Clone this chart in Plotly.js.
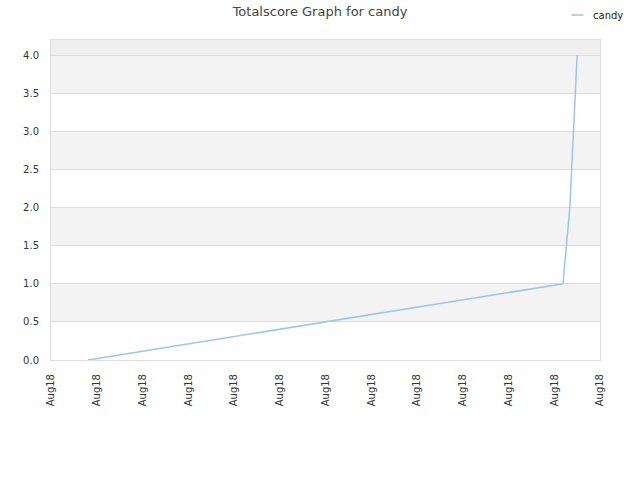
<!DOCTYPE html>
<html>
<head>
<meta charset="utf-8">
<script src="https://cdn.plot.ly/plotly-3.0.1.min.js"></script>
<style>html,body{margin:0;padding:0;background:#fff;}#chart{width:640px;height:480px;}</style>
</head>
<body>
<div id="chart"></div>
<script>
var seriesName = "candy";
var dates = ["2018-08-01 19:26", "2018-08-12 04:34", "2018-08-12 08:10", "2018-08-12 12:00"];
var scores = [0, 1, 2, 4];
var tickDates = ["2018-08-01","2018-08-02","2018-08-03","2018-08-04","2018-08-05","2018-08-06","2018-08-07","2018-08-08","2018-08-09","2018-08-10","2018-08-11","2018-08-12","2018-08-13"];
var tickLabels = tickDates.map(function(){ return "Aug18"; });
var yTicks = [0, 0.5, 1, 1.5, 2, 2.5, 3, 3.5, 4];
var lineColor = "#99c6f2";

var bands = [[0.5,1,"#f3f3f3"],[1.5,2,"#f3f3f3"],[2.5,3,"#f3f3f3"],[3.5,4,"#f3f3f3"],[4,4.2,"#eeeeee"]];
var shapes = bands.map(function(b){
  return {type:"rect", xref:"paper", yref:"y", x0:0, x1:1, y0:b[0], y1:b[1], fillcolor:b[2], line:{width:0}, layer:"below"};
});
// legend sample line (manual legend so the plot area is not pushed down)
shapes.push({type:"line", xref:"paper", yref:"paper", x0:0.948, x1:0.970, y0:1.078, y1:1.078, line:{color:lineColor, width:1.5}});

var trace = {
  x: dates, y: scores, type: "scatter", mode: "lines", name: seriesName,
  line: {color: lineColor, width: 1.5}, showlegend: false
};

var layout = {
  width: 640, height: 480,
  margin: {l: 51, r: 40, t: 40, b: 120},
  paper_bgcolor: "#ffffff", plot_bgcolor: "#ffffff",
  font: {family: "DejaVu Sans, sans-serif", size: 10, color: "#333333"},
  title: {text: "Totalscore Graph for candy", font: {size: 13, color: "#444444"}, x: 0.5, xanchor: "center", y: 0.985, yanchor: "top"},
  showlegend: false,
  annotations: [{xref:"paper", yref:"paper", x:0.983, y:1.078, xanchor:"left", yanchor:"middle", text: seriesName, showarrow:false, font:{size:10, color:"#222222"}}],
  xaxis: {
    type: "date", range: [tickDates[0], tickDates[tickDates.length-1]],
    tickmode: "array", tickvals: tickDates, ticktext: tickLabels, tickangle: -90,
    showgrid: false, zeroline: false, showline: true, linecolor: "#dddddd", linewidth: 1, mirror: true,
    ticks: "", ticklabelstandoff: 9, tickfont: {size: 10, color: "#333333"}
  },
  yaxis: {
    range: [0, 4.2], tickmode: "array", tickvals: yTicks, tickformat: ".1f",
    showgrid: true, gridcolor: "#dddddd", gridwidth: 1, zeroline: false,
    showline: true, linecolor: "#dddddd", linewidth: 1, mirror: true, ticks: "",
    ticklabelstandoff: 9, tickfont: {size: 10, color: "#333333"}
  },
  shapes: shapes
};

Plotly.newPlot("chart", [trace], layout, {displayModeBar: false, staticPlot: true});
</script>
</body>
</html>
